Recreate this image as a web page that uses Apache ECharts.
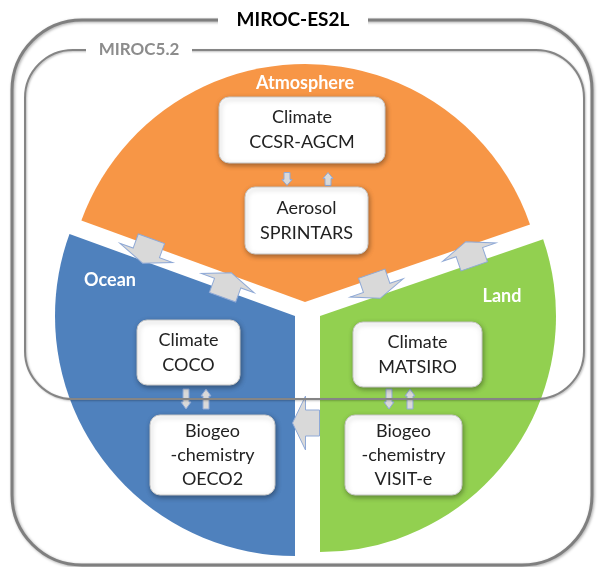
<!DOCTYPE html>
<html>
<head>
<meta charset="utf-8">
<script src="https://cdn.jsdelivr.net/npm/echarts@6/dist/echarts.min.js"></script>
<style>
  html, body { margin: 0; padding: 0; background: #fff; }
  #chart { width: 598px; height: 567px; }
</style>
</head>
<body>
<div id="chart"></div>
<script>
// model frames
const frameTitles = ['MIROC-ES2L', 'MIROC5.2']

// the three components, clockwise from the upper-left edge of the circle
const sectorNames = ['Atmosphere', 'Land', 'Ocean']
const sectorAngles = [141, 109, 110] // degrees
const sectorColors = ['#F79646', '#92D050', '#4F81BD']

// sub-models in each component (top box, bottom box)
const atmosphereModels = [['Climate', 'CCSR-AGCM'], ['Aerosol', 'SPRINTARS']]
const oceanModels = [['Climate', 'COCO'], ['Biogeo', '-chemistry', 'OECO2']]
const landModels = [['Climate', 'MATSIRO'], ['Biogeo', '-chemistry', 'VISIT-e']]

const chart = echarts.init(document.getElementById('chart'))
const font = 'Lato, "Open Sans", sans-serif'
const deg = Math.PI / 180

// one pie per sector so every slice can sit at its own offset
const sectorCenters = [[305, 302], [320, 316], [295, 316]]
const sectorRadius = [238, 236, 240]

const series = sectorNames.map((name, i) => ({
  type: 'pie',
  name: name,
  silent: true,
  center: sectorCenters[i],
  radius: [0, sectorRadius[i]],
  startAngle: 160,
  clockwise: true,
  label: { show: false },
  labelLine: { show: false },
  emphasis: { disabled: true },
  data: sectorNames.map((n, j) => ({
    name: n,
    value: sectorAngles[j],
    itemStyle: { color: j === i ? sectorColors[j] : 'rgba(0,0,0,0)', borderWidth: 0 }
  }))
}))

function box (x, y, w, h, lines, lh) {
  return [{
    type: 'rect', z: 20,
    shape: { x: x, y: y, width: w, height: h, r: 10 },
    style: {
      fill: '#fff', stroke: '#c9c9c9', lineWidth: 1,
      shadowBlur: 5, shadowColor: 'rgba(0,0,0,0.35)', shadowOffsetX: 1, shadowOffsetY: 2
    }
  }, {
    type: 'text', z: 21,
    x: x + w / 2, y: y + h / 2,
    style: {
      text: lines.join('\n'), fill: '#222',
      font: '18px ' + font, lineHeight: lh,
      align: 'center', verticalAlign: 'middle',
      textAlign: 'center', textVerticalAlign: 'middle'
    }
  }]
}

// block arrow, drawn pointing up, then turned by rot (radians, ccw)
function arrow (cx, cy, rot, L, hw, bw, hl, z) {
  const t = -L / 2
  return {
    type: 'polygon', z: z || 15,
    x: cx, y: cy, rotation: rot,
    shape: {
      points: [[0, t], [hw, t + hl], [bw, t + hl], [bw, L / 2], [-bw, L / 2], [-bw, t + hl], [-hw, t + hl]]
    },
    style: { fill: '#d9d9d9', stroke: '#8fa9d6', lineWidth: 1 }
  }
}

function sectorTitle (x, y, text) {
  return {
    type: 'text', z: 22, x: x, y: y,
    style: {
      text: text, fill: '#fff', font: 'bold 18px ' + font,
      align: 'center', verticalAlign: 'middle', textAlign: 'center', textVerticalAlign: 'middle'
    }
  }
}

const elements = [
  // outer frame
  {
    type: 'rect', z: 5,
    shape: { x: 12, y: 20, width: 580, height: 545, r: 70 },
    style: {
      fill: 'rgba(0,0,0,0)', stroke: '#7f7f7f', lineWidth: 3,
      shadowBlur: 3, shadowColor: 'rgba(0,0,0,0.35)', shadowOffsetX: 1, shadowOffsetY: 1
    }
  },
  // inner frame
  {
    type: 'rect', z: 18,
    shape: { x: 25, y: 50, width: 559, height: 349, r: 48 },
    style: {
      fill: 'rgba(0,0,0,0)', stroke: '#858585', lineWidth: 2,
      shadowBlur: 2, shadowColor: 'rgba(0,0,0,0.25)', shadowOffsetX: 1, shadowOffsetY: 1
    }
  },
  { type: 'rect', z: 30, shape: { x: 218, y: 8, width: 150, height: 24 }, style: { fill: '#fff' } },
  {
    type: 'text', z: 31, x: 293, y: 20,
    style: {
      text: frameTitles[0], fill: '#000', font: 'bold 19px ' + font,
      align: 'center', verticalAlign: 'middle', textAlign: 'center', textVerticalAlign: 'middle'
    }
  },
  { type: 'rect', z: 30, shape: { x: 86, y: 40, width: 106, height: 20 }, style: { fill: '#fff' } },
  {
    type: 'text', z: 31, x: 139, y: 50,
    style: {
      text: frameTitles[1], fill: '#8c8c8c', font: 'bold 17px ' + font,
      align: 'center', verticalAlign: 'middle', textAlign: 'center', textVerticalAlign: 'middle'
    }
  },

  sectorTitle(305, 83, sectorNames[0]),
  sectorTitle(502, 296, sectorNames[1]),
  sectorTitle(110, 280, sectorNames[2]),

  ...box(219, 97, 166, 66, atmosphereModels[0], 25),
  ...box(245, 187, 123, 67, atmosphereModels[1], 25),
  ...box(137, 320, 103, 65, oceanModels[0], 25),
  ...box(150, 415, 125, 80, oceanModels[1], 24),
  ...box(353, 322, 129, 65, landModels[0], 25),
  ...box(345, 415, 117, 80, landModels[1], 24),

  // exchanges inside each component
  arrow(287, 179, Math.PI, 13, 5, 3, 6),
  arrow(328, 179, 0, 13, 5, 3, 6),
  arrow(186, 399, Math.PI, 20, 5, 3, 7),
  arrow(206, 399, 0, 20, 5, 3, 7),
  arrow(389, 399, Math.PI, 20, 5, 3, 7),
  arrow(410, 399, 0, 20, 5, 3, 7),

  // exchanges across the gaps
  arrow(147, 251, Math.PI - 20 * deg, 26, 28, 14, 11),
  arrow(227, 285, -20 * deg, 26, 28, 14, 11),
  arrow(376, 286, Math.PI + 19 * deg, 26, 28, 14, 11),
  arrow(470, 254, 19 * deg, 26, 28, 14, 11),
  arrow(306, 423, Math.PI / 2, 27, 27, 13, 13, 16)
]

chart.setOption({
  animation: false,
  backgroundColor: '#fff',
  series: series,
  graphic: { elements: elements }
})
</script>
</body>
</html>
